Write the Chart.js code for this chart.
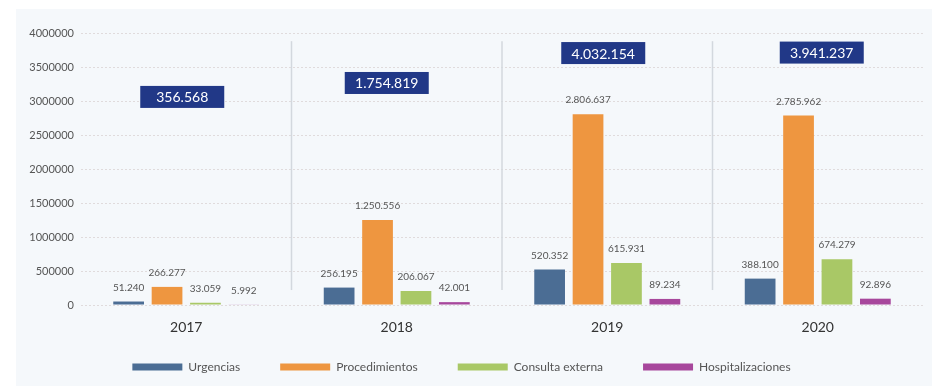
<!DOCTYPE html>
<html>
<head>
<meta charset="utf-8">
<script src="https://cdn.jsdelivr.net/npm/chart.js@4.4.1/dist/chart.umd.min.js"></script>
<style>
  html, body { margin: 0; padding: 0; background: #fff; }
  #panel { position: absolute; left: 16px; top: 9px; width: 916px; height: 377px; background: #f5f8fb; }
  #chart { position: absolute; left: 0; top: 0; }
</style>
</head>
<body>
<div id="panel"></div>
<canvas id="chart" width="935" height="386"></canvas>
<script>
// --- data ---
const years = ['2017', '2018', '2019', '2020'];
const urgencias = [51240, 256195, 520352, 388100];
const procedimientos = [266277, 1250556, 2806637, 2785962];
const consultaExterna = [33059, 206067, 615931, 674279];
const hospitalizaciones = [5992, 42001, 89234, 92896];
const yTicks = [0, 500000, 1000000, 1500000, 2000000, 2500000, 3000000, 3500000, 4000000];

const FONT = 'Lato, "Open Sans", sans-serif';

// 1234567 -> "1.234.567"
function dots(n) {
    return String(n).replace(/\B(?=(\d{3})+(?!\d))/g, '.');
}

// value labels above bars, totals boxes and group separators
const decorations = {
    id: 'decorations',
    afterDatasetsDraw(chart, args, opts) {
        const ctx = chart.ctx;
        const x = chart.scales.x;
        const y = chart.scales.y;
        ctx.save();

        // separators between years
        ctx.strokeStyle = '#d3d8de';
        ctx.lineWidth = 1.5;
        for (let i = 1; i < years.length; i++) {
            const px = (x.getPixelForValue(i - 1) + x.getPixelForValue(i)) / 2;
            ctx.beginPath();
            ctx.moveTo(px, y.getPixelForValue(opts.sepTop));
            ctx.lineTo(px, y.getPixelForValue(opts.sepBottom));
            ctx.stroke();
        }

        // bar values
        ctx.font = '10px ' + FONT;
        ctx.fillStyle = '#555';
        ctx.textAlign = 'center';
        ctx.textBaseline = 'middle';
        chart.data.datasets.forEach((ds, di) => {
            chart.getDatasetMeta(di).data.forEach((bar, i) => {
                ctx.fillText(dots(ds.data[i]), bar.x, bar.y - 14);
            });
        });

        // totals
        ctx.font = '14px ' + FONT;
        years.forEach((yr, i) => {
            const total = chart.data.datasets.reduce((s, ds) => s + ds.data[i], 0);
            const cx = x.getPixelForValue(i) + opts.boxShift[i];
            const cy = y.getPixelForValue(opts.boxAt[i]);
            ctx.fillStyle = '#213887';
            ctx.fillRect(cx - 42, cy - 11, 84, 22);
            ctx.fillStyle = '#fff';
            ctx.fillText(dots(total), cx, cy + 1);
        });
        ctx.restore();
    }
};

new Chart(document.getElementById('chart'), {
    type: 'bar',
    data: {
        labels: years,
        datasets: [
            { label: 'Urgencias', data: urgencias, backgroundColor: '#4b6d94' },
            { label: 'Procedimientos', data: procedimientos, backgroundColor: '#ee9640' },
            { label: 'Consulta externa', data: consultaExterna, backgroundColor: '#a9c866' },
            { label: 'Hospitalizaciones', data: hospitalizaciones, backgroundColor: '#a7479c' }
        ]
    },
    options: {
        responsive: false,
        devicePixelRatio: 1,
        animation: false,
        datasets: { bar: { categoryPercentage: 0.73, barPercentage: 0.8 } },
        layout: { padding: { top: 33, right: 12, bottom: 3, left: 0 } },
        plugins: {
            legend: {
                position: 'bottom',
                labels: {
                    boxWidth: 50,
                    boxHeight: 7,
                    padding: 40,
                    color: '#555',
                    font: { family: FONT, size: 12 }
                }
            },
            tooltip: { enabled: false },
            decorations: {
                boxAt: [3060000, 3265000, 3705000, 3712000],
                boxShift: [-4, -10, -4, 4],
                sepTop: 3880000,
                sepBottom: 220000
            }
        },
        scales: {
            x: {
                // squeeze the axis so the legend sits close; let the year labels overflow it
                afterFit: s => { s.height = 16; s._computeLabelArea = () => undefined; },
                grid: { display: false, drawTicks: false },
                border: { display: false },
                ticks: { color: '#333', font: { family: FONT, size: 14 }, padding: 14 }
            },
            y: {
                min: 0,
                max: 4000000,
                afterBuildTicks: s => { s.ticks = yTicks.map(v => ({ value: v })); },
                afterFit: s => { s.width = 81; },
                grid: { color: 'rgba(205,195,195,0.55)', drawTicks: false },
                border: { display: false, dash: [2, 2] },
                ticks: {
                    color: '#555',
                    font: { family: FONT, size: 11 },
                    padding: 7,
                    callback: v => String(v)
                }
            }
        }
    },
    plugins: [decorations]
});
</script>
</body>
</html>
